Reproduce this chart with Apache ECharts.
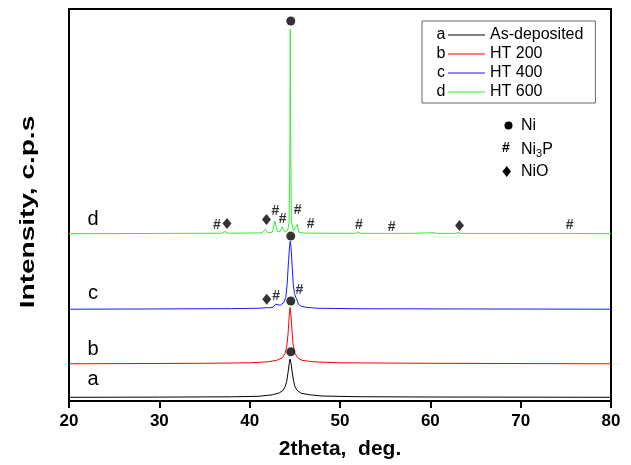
<!DOCTYPE html>
<html><head><meta charset="utf-8">
<script src="https://cdn.jsdelivr.net/npm/echarts@6/dist/echarts.min.js"></script>
<style>html,body{margin:0;padding:0;background:#fff}#c{width:631px;height:465px}</style>
</head><body><div id="c"></div>
<script>
// ---- data ----
const seriesNames = ['As-deposited', 'HT 200', 'HT 400', 'HT 600'];
const seriesLetters = ['a', 'b', 'c', 'd'];
const xTicks = [20, 30, 40, 50, 60, 70, 80];
// vertical offset of each stacked pattern (intensity units)
const baselineOffsets = [3.7, 37.3, 92, 167.7];
// [2theta, intensity above own baseline]
const curveA = [[20,0],[30,0.2],[38,0.5],[41,1],[42.5,2.5],[43.3,4.5],[43.7,7],[43.95,11],[44.1,16],[44.25,25],[44.38,34],[44.47,38.3],[44.56,35],[44.7,26],[44.85,17],[45.0,11],[45.25,7],[45.7,4],[46.7,2.5],[48,1.3],[52,0.6],[60,0.3],[80,0]];
const curveB = [[20,0],[35,0.5],[40,1],[42,2],[43,3.5],[43.6,6],[43.9,10],[44.1,17],[44.25,30],[44.38,48],[44.47,56.4],[44.56,50],[44.68,34],[44.8,20],[45.0,11],[45.3,6],[45.8,3.5],[47,2],[50,1],[60,0.5],[80,0]];
const curveC = [[20,0],[30,0.3],[38,0.6],[41,1],[41.8,1.5],[42.0,2.5],[42.2,1.5],[42.6,2],[42.85,5],[43.05,3],[43.4,4],[43.8,7],[44.0,12],[44.15,25],[44.3,48],[44.42,64],[44.5,68.3],[44.58,62],[44.7,44],[44.82,26],[44.95,16],[45.1,12],[45.25,9],[45.4,5],[45.7,3],[46.2,2],[47.5,1],[52,0.5],[80,0]];
const curveD = [[20,0],[30,0.3],[36.9,0.5],[37.25,2.2],[37.6,0.5],[41.4,0.8],[41.75,4.6],[42.0,1.2],[42.5,1.5],[42.8,12.6],[43.05,2.5],[43.35,2],[43.6,7],[43.85,2],[44.2,3],[44.38,12],[44.45,80],[44.5,205.3],[44.55,80],[44.62,12],[44.85,3],[45.05,2.5],[45.25,9.3],[45.45,1.5],[45.9,0.8],[46.1,2.6],[46.3,0.6],[51.7,0.4],[52.0,1.8],[52.3,0.4],[55.3,0.3],[55.5,1.2],[55.7,0.3],[58,0.4],[60.4,1],[60.7,0.3],[62.8,0.3],[63.1,1.2],[63.4,0.3],[70,0.3],[75.1,0.3],[75.3,1.6],[75.5,0.3],[80,0]];
// phase identification marks [2theta, height]
const niMarks = [[44.55,381],[44.55,165.3],[44.55,100.3],[44.55,49.3]];
const ni3pMarks = [[36.38,176],[42.84,190.7],[43.66,182.3],[45.32,191],[46.74,177],[52.1,176],[55.72,174],[75.43,176],[42.92,104.7],[45.5,111]];
const nioMarks = [[37.49,178],[41.86,182],[63.23,176],[41.89,102]];

// ---- chart ----
const colors = ['#000000', '#ff0000', '#1a1aff', '#33ee33'];
const curves = [curveA, curveB, curveC, curveD];
const FONT = '"Liberation Sans", Arial, sans-serif';

const lineSeries = curves.map((c, i) => ({
  name: seriesNames[i],
  type: 'line',
  symbol: 'none',
  lineStyle: { color: colors[i], width: 1 },
  itemStyle: { color: colors[i] },
  data: c.map(p => [p[0], p[1] + baselineOffsets[i]]),
  z: 2
}));

const chart = echarts.init(document.getElementById('c'), null, { renderer: 'canvas' });
chart.setOption({
  animation: false,
  backgroundColor: '#ffffff',
  grid: { left: 69, right: 20, top: 9, bottom: 63, show: true, borderColor: '#000', borderWidth: 2, backgroundColor: 'transparent' },
  xAxis: {
    type: 'value', min: 20, max: 80, interval: 10,
    name: '2theta,  deg.', nameLocation: 'middle', nameGap: 38,
    nameTextStyle: { fontFamily: FONT, fontSize: 21, fontWeight: 'bold', color: '#000' },
    axisLine: { lineStyle: { color: '#000', width: 2 } },
    axisTick: { inside: false, length: 7, lineStyle: { color: '#000', width: 2 } },
    axisLabel: { margin: 12, fontFamily: FONT, fontSize: 17, fontWeight: 'bold', color: '#000',
      formatter: v => (xTicks.indexOf(v) >= 0 ? String(v) : '') },
    splitLine: { show: false }
  },
  yAxis: {
    type: 'value', min: 0, max: 393,
    axisLine: { show: true, lineStyle: { color: '#000', width: 2 } },
    axisTick: { show: false }, axisLabel: { show: false }, splitLine: { show: false }
  },
  legend: {
    data: seriesNames.map(n => ({ name: n, icon: 'path://M0,0h37v1h-37z' })),
    orient: 'vertical', left: 422, top: 21,
    padding: [6, 12, 3, 26], itemWidth: 37, itemHeight: 14, itemGap: 3,
    itemStyle: { borderWidth: 0 },
    borderColor: '#666', borderWidth: 1, backgroundColor: '#fff',
    textStyle: { fontFamily: FONT, fontSize: 16, color: '#000' },
    selectedMode: false
  },
  series: lineSeries.concat([
    { name: 'Ni', type: 'scatter', symbol: 'circle', symbolSize: 9, itemStyle: { color: '#000' }, data: niMarks, z: 5 },
    { name: 'NiO', type: 'scatter', symbol: 'diamond', symbolSize: [9, 11], itemStyle: { color: '#000' }, data: nioMarks, z: 5 },
    { name: 'Ni3P', type: 'scatter', symbol: 'rect', symbolSize: 1, itemStyle: { color: 'rgba(0,0,0,0)' },
      label: { show: true, position: 'inside', formatter: '#', fontFamily: FONT, fontSize: 14, fontWeight: 'bold', color: '#000' },
      data: ni3pMarks, z: 5 }
  ]),
  graphic: [
    // y axis title (stretched as in the original figure)
    { type: 'text', x: 28, y: 212, rotation: Math.PI / 2, scaleX: 1.4, z: 100,
      style: { text: 'Intensity, c.p.s', font: 'bold 20px ' + FONT, fill: '#000', align: 'center', verticalAlign: 'middle' } },
    // letters inside legend box
    ...seriesLetters.map((l, i) => ({ type: 'text', x: 441, y: 35 + 19 * i, z: 100,
      style: { text: l, font: '16px ' + FONT, fill: '#000', align: 'center', verticalAlign: 'middle' } })),
    // curve letters
    { type: 'text', x: 93, y: 219, style: { text: 'd', font: '20px ' + FONT, fill: '#000', align: 'center', verticalAlign: 'middle' } },
    { type: 'text', x: 93, y: 293, style: { text: 'c', font: '20px ' + FONT, fill: '#000', align: 'center', verticalAlign: 'middle' } },
    { type: 'text', x: 93, y: 349, style: { text: 'b', font: '20px ' + FONT, fill: '#000', align: 'center', verticalAlign: 'middle' } },
    { type: 'text', x: 93, y: 379, style: { text: 'a', font: '20px ' + FONT, fill: '#000', align: 'center', verticalAlign: 'middle' } },
    // phase key
    { type: 'circle', shape: { cx: 508.5, cy: 125.5, r: 4 }, style: { fill: '#000' } },
    { type: 'text', x: 521, y: 125.5, style: { text: 'Ni', font: '16px ' + FONT, fill: '#000', verticalAlign: 'middle' } },
    { type: 'text', x: 506, y: 148, style: { text: '#', font: 'bold 14px ' + FONT, fill: '#000', align: 'center', verticalAlign: 'middle' } },
    { type: 'text', x: 521, y: 140, style: { text: 'Ni{s|3}P', font: '16px ' + FONT, fill: '#000', verticalAlign: 'top',
      rich: { s: { fontSize: 11, fontFamily: FONT, verticalAlign: 'bottom', padding: [8, 0, 0, 0] } } } },
    { type: 'polygon', shape: { points: [[506.7, 166], [511, 171.5], [506.7, 177], [502.4, 171.5]] }, style: { fill: '#000' } },
    { type: 'text', x: 521, y: 171.5, style: { text: 'NiO', font: '16px ' + FONT, fill: '#000', verticalAlign: 'middle' } }
  ]
});
</script></body></html>
